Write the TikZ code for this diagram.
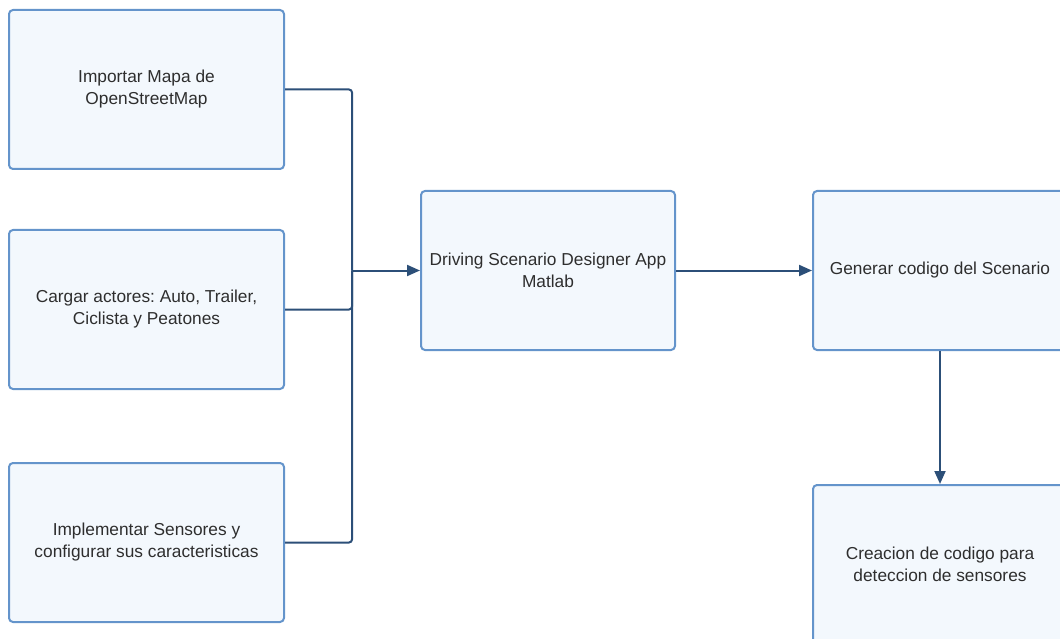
\documentclass[tikz,border=0pt]{standalone}
\usepackage{fontspec}
\setmainfont{Liberation Sans}
\usetikzlibrary{arrows.meta}
\definecolor{boxline}{HTML}{6494CB}
\definecolor{boxfill}{HTML}{F3F8FD}
\definecolor{arrowc}{HTML}{2C4F78}
\definecolor{txt}{HTML}{2E2E2E}
\frenchspacing
\begin{document}
\begin{tikzpicture}[x=1pt,y=-1pt,
  stepbox/.style={draw=boxline, fill=boxfill, line width=2pt, rounded corners=4pt,
    align=center, text=txt, font=\fontsize{17.3}{22}\selectfont, inner sep=0pt,
    minimum width=275pt, minimum height=159pt},
  midbox/.style={stepbox, minimum width=254pt},
  conn/.style={draw=arrowc, line width=2pt, rounded corners=3pt},
  arr/.style={draw=arrowc, line width=2pt, -{Triangle[length=13pt,width=11pt]}}]
\useasboundingbox (0,0) rectangle (1060,639);
\node[stepbox] (b1) at (146.5,89.5) {Importar Mapa de\\OpenStreetMap};
\node[stepbox] (b2) at (146.5,309.5) {Cargar actores: Auto, Trailer,\\Ciclista y Peatones};
\node[stepbox] (b3) at (146.5,542.5) {Implementar Sensores y\\configurar sus caracteristicas};
\node[midbox] (dsd) at (548,270.5) {Driving Scenario Designer App\\Matlab};
\node[midbox] (gen) at (940,270.5) {Generar codigo del Scenario};
\node[midbox] (cre) at (940,564.5) {Creacion de codigo para\\deteccion de sensores};
\coordinate (j) at (352,270.5);
\draw[conn] (b1.east) -| (j);
\draw[conn] (b2.east) -| (j);
\draw[conn] (b3.east) -| (j);
\draw[arr] (j) -- (dsd.west);
\draw[arr] (dsd.east) -- (gen.west);
\draw[arr] (gen.south) -- (cre.north);
\end{tikzpicture}
\end{document}
